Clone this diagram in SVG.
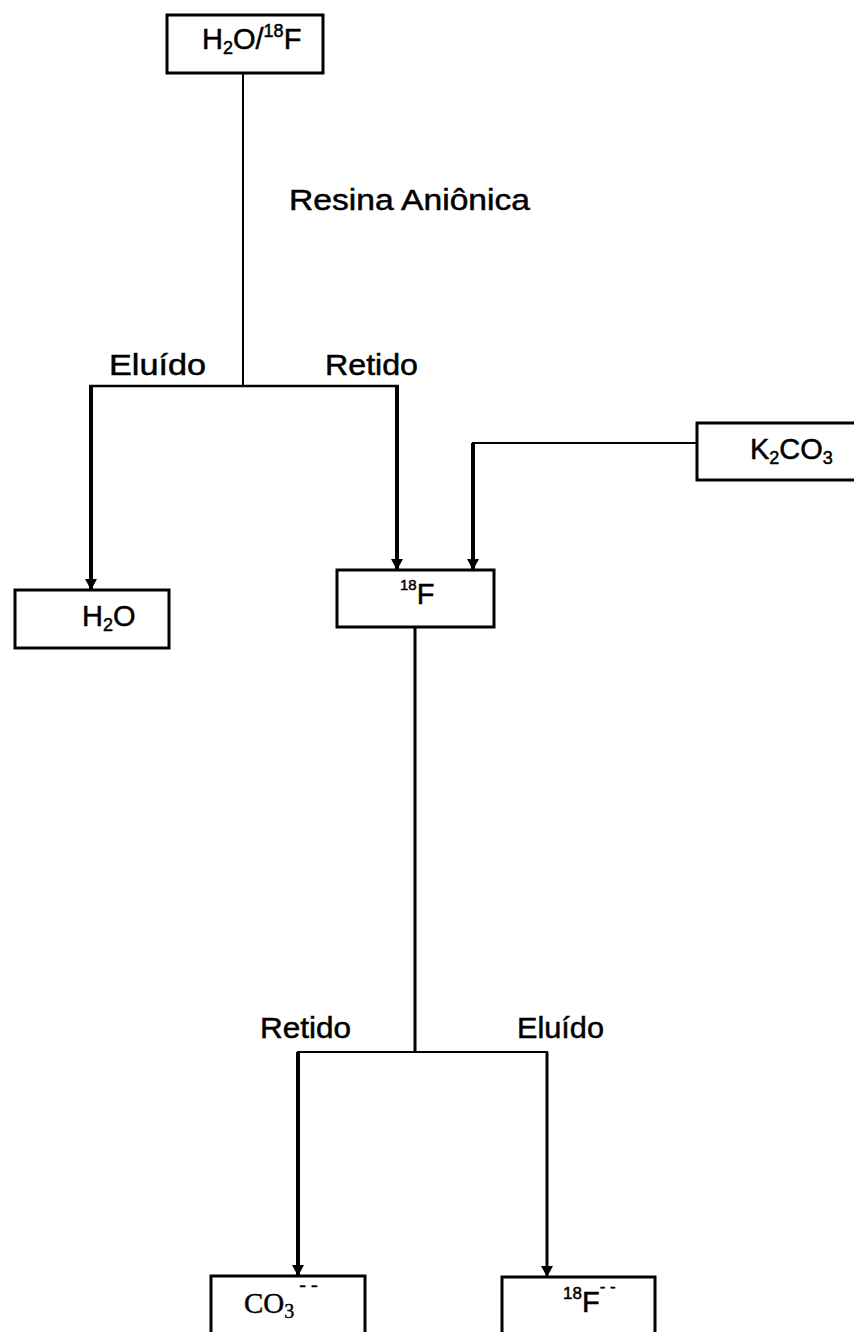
<svg xmlns="http://www.w3.org/2000/svg" width="854" height="1332" viewBox="0 0 854 1332">
<defs>
<style>
.box{fill:#fff;stroke:#000;stroke-width:3}
.t{font-family:"Liberation Sans",Arial,sans-serif;font-size:29px;fill:#000;stroke:#000;stroke-width:0.5}
.s{font-family:"Liberation Serif","Times New Roman",serif;font-size:29px;fill:#000;stroke:#000;stroke-width:0.4}
.c{fill:none;stroke:#000;stroke-linecap:butt}
</style>
<marker id="ah" markerUnits="userSpaceOnUse" markerWidth="12" markerHeight="14" refX="10" refY="7" orient="auto" viewBox="0 0 12 14">
<path d="M0,1 L11,7 L0,13 Z" fill="#000"/>
</marker>
</defs>
<rect width="854" height="1332" fill="#fff"/>
<g id="connectors">
<line class="c" x1="243" y1="73" x2="243" y2="387" stroke-width="2"/>
<line class="c" x1="89" y1="386" x2="399" y2="386" stroke-width="2.5"/>
<line class="c" x1="91" y1="386" x2="91" y2="589" stroke-width="4" marker-end="url(#ah)"/>
<line class="c" x1="397" y1="386" x2="397" y2="569" stroke-width="4" marker-end="url(#ah)"/>
<line class="c" x1="697" y1="443" x2="472" y2="443" stroke-width="2"/>
<line class="c" x1="473" y1="443" x2="473" y2="569" stroke-width="4" marker-end="url(#ah)"/>
<line class="c" x1="415" y1="627" x2="415" y2="1053" stroke-width="3"/>
<line class="c" x1="297" y1="1052" x2="548" y2="1052" stroke-width="2"/>
<line class="c" x1="298" y1="1052" x2="298" y2="1275" stroke-width="4" marker-end="url(#ah)"/>
<line class="c" x1="547" y1="1052" x2="547" y2="1276" stroke-width="3" marker-end="url(#ah)"/>
</g>
<g id="n-h2o-18f">
<rect class="box" x="167" y="15" width="156" height="58"/>
<text class="t" x="202" y="49" font-size="30">H<tspan font-size="18" dy="5">2</tspan><tspan dy="-5">O/</tspan><tspan font-size="18" dy="-12">18</tspan><tspan dy="12">F</tspan></text>
</g>
<g id="label-resina">
<text class="t" x="289" y="210" textLength="241" lengthAdjust="spacingAndGlyphs">Resina Aniônica</text>
</g>
<g id="labels-top">
<text class="t" x="109" y="375" textLength="97" lengthAdjust="spacingAndGlyphs">Eluído</text>
<text class="t" x="325" y="375" textLength="93" lengthAdjust="spacingAndGlyphs">Retido</text>
</g>
<g id="n-h2o">
<rect class="box" x="15" y="590" width="154" height="58"/>
<text class="t" x="82" y="626" font-size="30">H<tspan font-size="18" dy="5">2</tspan><tspan dy="-5">O</tspan></text>
</g>
<g id="n-18f">
<rect class="box" x="337" y="570" width="157" height="57"/>
<text class="t" x="400" y="604" font-size="32" stroke-width="0.3"><tspan font-size="15" dy="-14">18</tspan><tspan dy="14">F</tspan></text>
</g>
<g id="n-k2co3">
<rect class="box" x="697" y="423" width="160" height="57"/>
<text class="t" x="750" y="459" font-size="30">K<tspan font-size="18" dy="5">2</tspan><tspan dy="-5">CO</tspan><tspan font-size="18" dy="5">3</tspan></text>
</g>
<g id="labels-bottom">
<text class="t" x="260" y="1038" textLength="91" lengthAdjust="spacingAndGlyphs">Retido</text>
<text class="t" x="517" y="1038" textLength="87" lengthAdjust="spacingAndGlyphs">Eluído</text>
</g>
<g id="n-co3">
<rect class="box" x="211" y="1276" width="154" height="70"/>
<text class="s" x="244" y="1313">CO<tspan font-size="20" dy="5">3</tspan><tspan font-size="20" dy="-27"> - -</tspan></text>
</g>
<g id="n-18f-anion">
<rect class="box" x="502" y="1277" width="153" height="70"/>
<text class="t" x="563" y="1312" font-size="30" stroke-width="0.3"><tspan font-size="17" dy="-13">18</tspan><tspan dy="13">F</tspan><tspan font-size="17" dy="-20">- -</tspan></text>
</g>
</svg>
